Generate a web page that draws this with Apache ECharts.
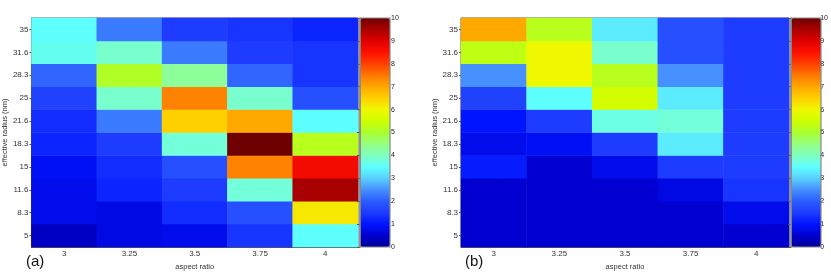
<!DOCTYPE html>
<html>
<head>
<meta charset="utf-8">
<script src="https://cdn.jsdelivr.net/npm/echarts@6/dist/echarts.min.js"></script>
<style>html,body{margin:0;padding:0;background:#fff}#c{width:831px;height:277px}</style>
</head>
<body>
<div id="c"></div>
<script>
// categories
const aspectRatios = ['3', '3.25', '3.5', '3.75', '4'];
const radii = ['5', '8.3', '11.6', '15', '18.3', '21.6', '25', '28.3', '31.6', '35']; // bottom to top
// panel (a) values, one row per radius (bottom to top), one value per aspect ratio
const valuesA = [
  [0.4, 0.7, 0.8, 1.4, 3.5],
  [0.8, 0.7, 1.3, 1.8, 6.2],
  [0.8, 1.2, 1.5, 3.8, 9.5],
  [0.9, 1.3, 1.8, 7.4, 8.7],
  [1.2, 1.5, 3.8, 10.0, 5.2],
  [1.3, 2.3, 6.5, 7.0, 3.5],
  [1.6, 3.9, 7.4, 3.9, 1.8],
  [2.1, 5.1, 4.3, 2.1, 1.4],
  [3.6, 3.9, 2.3, 1.5, 1.4],
  [3.5, 2.3, 1.5, 1.4, 1.2]
];
// panel (b) values
const valuesB = [
  [0.5, 0.5, 0.5, 0.5, 0.5],
  [0.5, 0.5, 0.5, 0.5, 0.8],
  [0.5, 0.5, 0.5, 0.7, 1.4],
  [1.1, 0.5, 0.8, 1.5, 1.5],
  [0.8, 0.9, 1.5, 3.3, 1.5],
  [1.0, 1.5, 3.7, 3.8, 1.5],
  [1.6, 3.5, 5.6, 3.3, 1.5],
  [2.5, 6.0, 5.2, 2.5, 1.5],
  [5.3, 6.0, 3.9, 1.8, 1.5],
  [7.0, 5.2, 3.3, 1.8, 1.5]
];
const colorbarMin = 0;
const colorbarMax = 10;
const colorbarInterval = 1;
// jet-like colour stops, evenly spaced from 0 to 10 (every 0.5)
const jetColors = ['#00009a', '#0000d0', '#0014ff', '#1e3cff', '#2a5cff', '#4690ff',
                   '#5ad0ff', '#5effff', '#80ffc0', '#95ff80', '#aaff30', '#cdff00',
                   '#f0f800', '#ffd000', '#ffa800', '#ff7800', '#ff4000', '#ff1000',
                   '#e00000', '#a80000', '#6e0000'];
const panelLabels = ['(a)', '(b)'];
const xTitle = 'aspect ratio';
const yTitle = 'effective radius (nm)';

function toCells(rows) {
  const out = [];
  rows.forEach((row, ri) => row.forEach((v, ci) => out.push([ci, ri, v])));
  return out;
}

const FONT = 'Liberation Sans';
const panels = [
  {plotLeft: 29, plotWidth: 329, barLeft: 360, labelLeft: 26},
  {plotLeft: 461, plotWidth: 328, barLeft: 791, labelLeft: 465}
];
const TOP = 18, H = 229, BARW = 30;

const grid = [], xAxis = [], yAxis = [], series = [], visualMap = [], graphic = [];
panels.forEach((p, i) => {
  grid.push({left: p.plotLeft, top: TOP, width: p.plotWidth, height: H, show: true,
             borderColor: '#555', borderWidth: 1, backgroundColor: 'transparent'});
  grid.push({left: p.barLeft, top: TOP, width: BARW, height: H, show: false});
  xAxis.push({type: 'category', gridIndex: 2 * i, data: aspectRatios,
    name: xTitle, nameLocation: 'middle', nameGap: 11,
    nameTextStyle: {fontFamily: FONT, fontSize: 7.5, color: '#333'},
    axisLine: {show: true, lineStyle: {color: '#555', width: 1}},
    axisTick: {show: true, alignWithLabel: true, inside: true, length: 3, lineStyle: {color: '#555'}},
    axisLabel: {fontFamily: FONT, fontSize: 8, color: '#333', margin: 3},
    splitLine: {show: false}, splitArea: {show: false}});
  xAxis.push({type: 'value', gridIndex: 2 * i + 1, show: false, min: 0, max: 1});
  yAxis.push({type: 'category', gridIndex: 2 * i, data: radii,
    name: yTitle, nameLocation: 'middle', nameGap: 21,
    nameTextStyle: {fontFamily: FONT, fontSize: 7.5, color: '#333'},
    axisLine: {show: true, lineStyle: {color: '#555', width: 1}},
    axisTick: {show: true, alignWithLabel: true, inside: false, length: 2, lineStyle: {color: '#555'}},
    axisLabel: {fontFamily: FONT, fontSize: 8, color: '#333', margin: 3},
    splitLine: {show: false}, splitArea: {show: false}});
  yAxis.push({type: 'value', gridIndex: 2 * i + 1, position: 'right', z: 10,
    min: colorbarMin, max: colorbarMax, interval: colorbarInterval,
    axisLine: {show: true, lineStyle: {color: '#888', width: 1.5}},
    axisTick: {show: true, inside: true, length: 3, lineStyle: {color: '#555'}},
    axisLabel: {fontFamily: FONT, fontSize: 7, color: '#222', margin: 1},
    splitLine: {show: false}});
  series.push({type: 'heatmap', xAxisIndex: 2 * i, yAxisIndex: 2 * i,
    data: toCells(i === 0 ? valuesA : valuesB),
    itemStyle: {borderWidth: 0}, emphasis: {disabled: true}, progressive: 0});
  visualMap.push({type: 'continuous', seriesIndex: i, min: colorbarMin, max: colorbarMax,
    inRange: {color: jetColors}, orient: 'vertical', left: p.barLeft, top: TOP,
    itemWidth: BARW, itemHeight: H, calculable: false, hoverLink: false,
    padding: 0, text: null, borderWidth: 0});
  graphic.push({type: 'rect', z: 20, silent: true,
    shape: {x: p.barLeft, y: TOP, width: BARW, height: H},
    style: {fill: 'none', stroke: '#888', lineWidth: 1.2}});
  graphic.push({type: 'text', z: 20, left: p.labelLeft, top: 254,
    style: {text: panelLabels[i], font: '15px ' + FONT, fill: '#111'}});
});

const chart = echarts.init(document.getElementById('c'), null, {renderer: 'canvas'});
chart.setOption({animation: false, grid, xAxis, yAxis, series, visualMap, graphic});
</script>
</body>
</html>
